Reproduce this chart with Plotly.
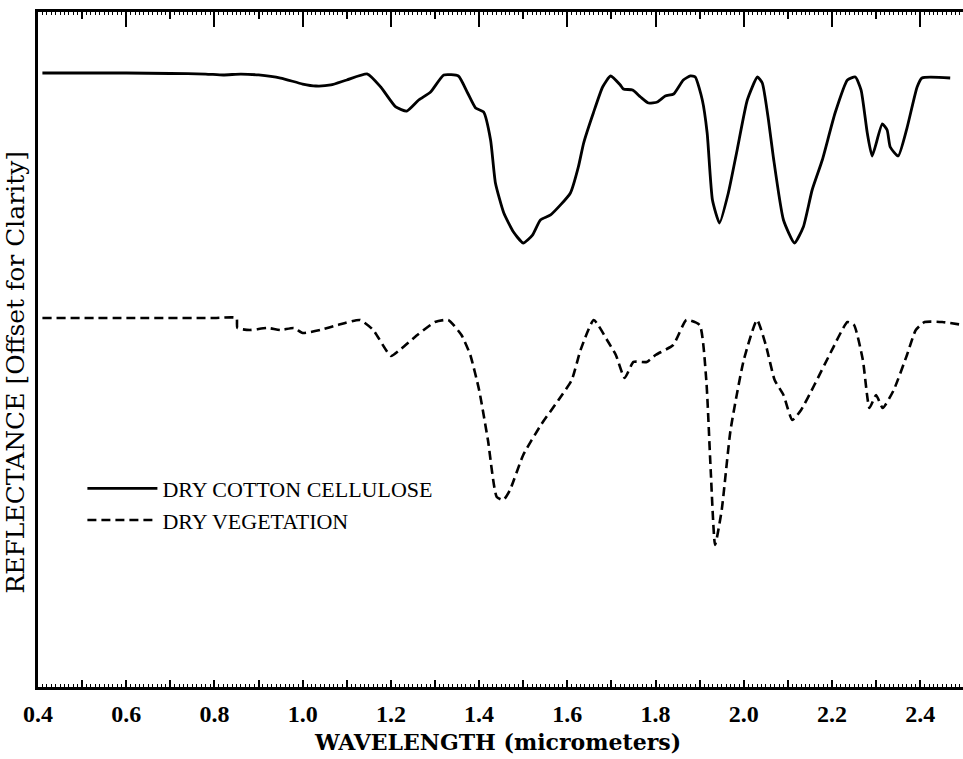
import plotly.graph_objects as go

# ---- data (wavelength in micrometers, reflectance in arbitrary offset units) ----
cotton_wl = [0.41, 0.50, 0.60, 0.70, 0.78, 0.82, 0.86, 0.90, 0.95, 1.00, 1.03, 1.064, 1.10,
             1.147, 1.177, 1.211, 1.236, 1.263, 1.29, 1.32, 1.353, 1.374, 1.392, 1.41, 1.426,
             1.437, 1.456, 1.478, 1.50, 1.521, 1.539, 1.562, 1.607, 1.625, 1.637, 1.659, 1.68,
             1.698, 1.72, 1.727, 1.748, 1.766, 1.784, 1.804, 1.822, 1.841, 1.863, 1.879, 1.89,
             1.906, 1.917, 1.929, 1.945, 1.965, 1.985, 2.008, 2.031, 2.042, 2.056, 2.067, 2.09,
             2.115, 2.135, 2.155, 2.178, 2.207, 2.235, 2.253, 2.266, 2.28, 2.291, 2.314, 2.325,
             2.332, 2.35, 2.37, 2.393, 2.404, 2.468]
cotton_refl = [90.96, 90.96, 90.96, 90.89, 90.81, 90.67, 90.81, 90.67, 90.22, 89.33, 89.04, 89.19, 89.93,
               90.81, 88.89, 85.93, 85.33, 86.96, 88.15, 90.67, 90.52, 88.00, 85.78, 85.19, 81.04,
               74.67, 70.22, 67.41, 65.78, 66.96, 69.19, 69.93, 73.19, 77.04, 80.59, 85.04, 88.89,
               90.52, 89.19, 88.59, 88.44, 87.41, 86.52, 86.67, 87.56, 87.85, 89.93, 90.52, 90.37,
               86.96, 82.07, 72.15, 68.74, 73.19, 79.56, 86.96, 90.37, 89.48, 84.00, 78.52, 69.19,
               65.78, 68.15, 73.63, 78.07, 85.04, 89.93, 90.37, 88.44, 82.07, 78.67, 83.41, 82.52,
               80.00, 78.67, 82.81, 88.89, 90.22, 90.22]

veg_wl = [0.41, 0.60, 0.80, 0.85, 0.852, 0.88, 0.92, 0.95, 0.98, 1.00, 1.04, 1.08, 1.13, 1.16,
          1.20, 1.22, 1.26, 1.30, 1.33, 1.36, 1.38, 1.40, 1.42, 1.44, 1.455, 1.47, 1.50, 1.54,
          1.58, 1.61, 1.63, 1.66, 1.69, 1.71, 1.73, 1.75, 1.78, 1.80, 1.84, 1.87, 1.90, 1.915,
          1.925, 1.935, 1.95, 1.97, 2.00, 2.03, 2.05, 2.07, 2.09, 2.11, 2.13, 2.16, 2.20, 2.235,
          2.25, 2.27, 2.285, 2.30, 2.315, 2.34, 2.37, 2.39, 2.41, 2.45, 2.497]
veg_refl = [54.67, 54.67, 54.67, 54.67, 53.19, 52.89, 53.19, 52.89, 53.19, 52.44, 52.89, 53.63, 54.37, 52.89,
            49.04, 49.93, 52.15, 54.07, 54.37, 52.15, 49.19, 44.00, 36.59, 28.15, 27.70, 29.19, 34.37, 38.81,
            42.52, 45.48, 49.93, 54.37, 51.41, 49.19, 45.78, 48.15, 48.15, 49.19, 50.67, 54.37, 53.63, 45.48,
            32.15, 21.04, 26.22, 38.07, 48.44, 54.37, 50.67, 45.48, 43.26, 39.56, 41.04, 44.74, 49.93, 54.07,
            53.63, 48.44, 41.33, 43.26, 41.33, 44.00, 49.19, 52.89, 54.07, 54.07, 53.63]

x_range = [0.4, 2.497]
y_range = [0, 100]
major_ticks = [0.4, 0.6, 0.8, 1.0, 1.2, 1.4, 1.6, 1.8, 2.0, 2.2, 2.4]
tenth_ticks = [round(0.4 + 0.1 * i, 1) for i in range(21)]
tick_labels = [f"{v:.1f}" if i % 2 == 0 else "" for i, v in enumerate(tenth_ticks)]

SERIF = "Liberation Serif"
WIDE_SERIF = "DejaVu Serif"

fig = go.Figure()
fig.add_trace(go.Scatter(x=cotton_wl, y=cotton_refl, mode="lines", name="DRY COTTON CELLULOSE",
                         line=dict(color="black", width=2.8, shape="spline", smoothing=0.5)))
fig.add_trace(go.Scatter(x=veg_wl, y=veg_refl, mode="lines", name="DRY VEGETATION",
                         line=dict(color="black", width=2.6, dash="9px,5px", shape="spline", smoothing=0.5)))
# helper trace to materialise the top tick axis
fig.add_trace(go.Scatter(x=[], y=[], xaxis="x2", showlegend=False, hoverinfo="skip"))

fig.update_layout(
    width=963, height=759,
    margin=dict(l=38, r=0, t=12, b=72),
    paper_bgcolor="white", plot_bgcolor="white",
    font=dict(family=SERIF, color="black"),
    showlegend=True,
    legend=dict(x=0.048, y=0.325, xanchor="left", yanchor="top", itemwidth=70,
                bgcolor="rgba(0,0,0,0)", font=dict(family=SERIF, size=22, color="black"),
                tracegroupgap=0),
    xaxis=dict(range=x_range, tickmode="array", tickvals=tenth_ticks, ticktext=tick_labels,
               ticks="inside", ticklen=7, tickwidth=2, tickcolor="black",
               showline=True, linewidth=3, linecolor="black", mirror="allticks",
               showgrid=False, zeroline=False, ticklabelstandoff=3,
               tickfont=dict(family=SERIF, size=24, weight="bold", color="black"),
               minor=dict(dtick=0.01, tick0=0.4, ticks="inside", ticklen=3, tickwidth=1, tickcolor="black")),
    xaxis2=dict(range=x_range, overlaying="x", side="top", tickmode="array", tickvals=major_ticks,
                ticks="inside", ticklen=15, tickwidth=2, tickcolor="black", showticklabels=False,
                showline=False, showgrid=False, zeroline=False),
    yaxis=dict(range=y_range, showline=True, linewidth=3, linecolor="black", ticks="",
               showticklabels=False, showgrid=False, zeroline=False),
    annotations=[
        dict(text="WAVELENGTH (micrometers)", xref="paper", yref="paper", x=0.497, y=-0.081,
             xanchor="center", yanchor="middle", showarrow=False,
             font=dict(family=WIDE_SERIF, size=22, weight="bold", color="black")),
        dict(text="REFLECTANCE [Offset for Clarity]", xref="paper", yref="paper", x=-0.024, y=0.467,
             xanchor="center", yanchor="middle", showarrow=False, textangle=-90,
             font=dict(family=WIDE_SERIF, size=25, color="black")),
    ],
)

fig.write_html("out.html")
